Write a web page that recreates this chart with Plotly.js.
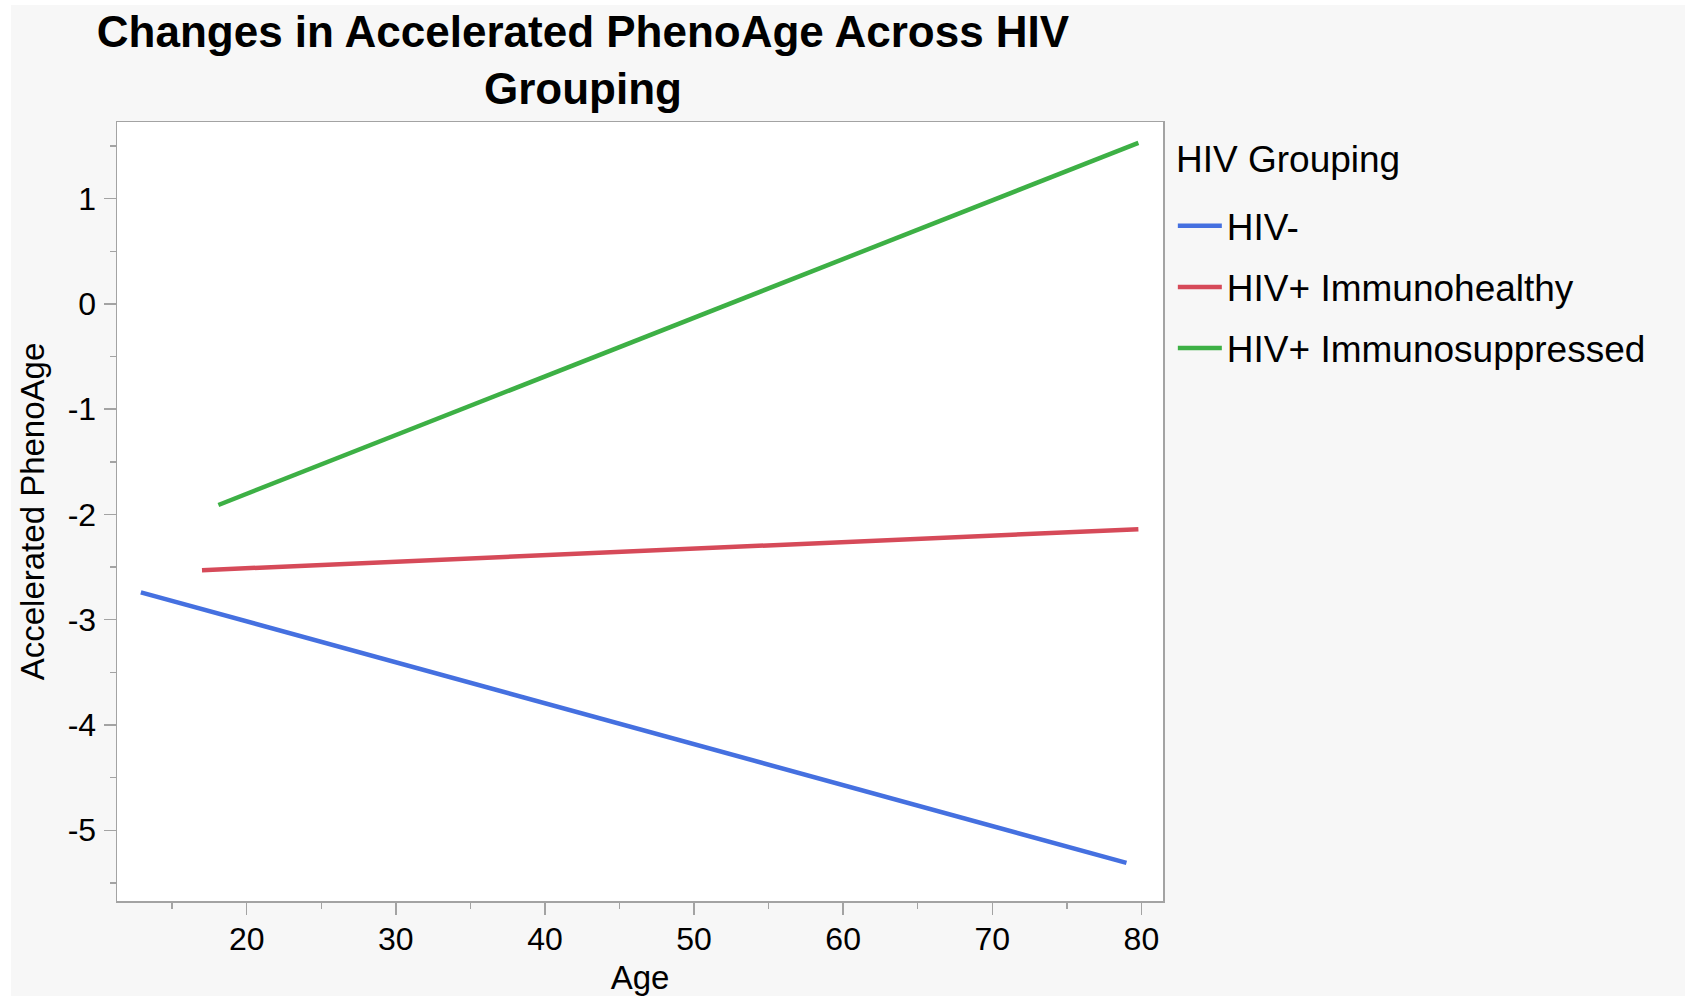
<!DOCTYPE html>
<html>
<head>
<meta charset="utf-8">
<script src="https://cdn.plot.ly/plotly-3.0.1.min.js"></script>
<style>
  html, body { margin: 0; padding: 0; background: #ffffff; width: 1685px; height: 996px; overflow: hidden; }
  #chart { position: absolute; left: 11px; top: 5px; width: 1674px; height: 991px; }
</style>
</head>
<body>
<div id="chart"></div>
<script>
// Data (fitted lines, endpoints)
const groups = ["HIV-", "HIV+ Immunohealthy", "HIV+ Immunosuppressed"];
const legendTitle = "HIV Grouping";
const ageHIVneg = [12.9, 79];
const phenoHIVneg = [-2.74, -5.31];
const ageImmunohealthy = [17, 79.8];
const phenoImmunohealthy = [-2.53, -2.14];
const ageImmunosuppressed = [18.1, 79.8];
const phenoImmunosuppressed = [-1.91, 1.53];
const colors = ["#4570E0", "#D64A59", "#3DB045"];
const xTickVals = [20, 30, 40, 50, 60, 70, 80];
const yTickVals = [-5, -4, -3, -2, -1, 0, 1];

const xs = [ageHIVneg, ageImmunohealthy, ageImmunosuppressed];
const ys = [phenoHIVneg, phenoImmunohealthy, phenoImmunosuppressed];

const traces = groups.map((g, i) => ({
  type: "scatter",
  mode: "lines",
  name: g,
  legendgroup: "g" + i,
  x: xs[i],
  y: ys[i],
  line: { color: colors[i], width: 4.5 },
  hoverinfo: "skip"
}));

const axisGray = "#a3a3a3";
const fam = "Liberation Sans, Arial, sans-serif";
const layout = {
  width: 1674,
  height: 991,
  paper_bgcolor: "#f7f7f7",
  plot_bgcolor: "#ffffff",
  font: { family: fam, color: "#000000" },
  margin: { l: 106, r: 522, t: 117, b: 95, pad: 0 },
  title: {
    text: "<b>Changes in Accelerated PhenoAge Across HIV<br>Grouping</b>",
    font: { size: 44, family: fam, color: "#000000" },
    x: 0.3417, xref: "container", xanchor: "center",
    y: 0.958, yref: "container", yanchor: "top"
  },
  xaxis: {
    range: [11.3, 81.45],
    tickvals: xTickVals,
    ticktext: xTickVals.map(String),
    ticks: "outside", ticklen: 12, tickwidth: 1.5, tickcolor: axisGray,
    minor: { ticks: "outside", ticklen: 6, tickwidth: 1.5, tickcolor: axisGray, dtick: 5, tick0: 0, showgrid: false },
    showline: true, linecolor: axisGray, linewidth: 1.5, mirror: true,
    showgrid: false, zeroline: false,
    tickfont: { size: 32 },
    ticklabelstandoff: -3,
    title: { text: "Age", font: { size: 33 }, standoff: 20 }
  },
  yaxis: {
    range: [-5.672, 1.728],
    tickvals: yTickVals,
    ticktext: yTickVals.map(String),
    ticks: "outside", ticklen: 12, tickwidth: 1.5, tickcolor: axisGray,
    minor: { ticks: "outside", ticklen: 6, tickwidth: 1.5, tickcolor: axisGray, dtick: 0.5, tick0: 0, showgrid: false },
    showline: true, linecolor: axisGray, linewidth: 1.5, mirror: true,
    showgrid: false, zeroline: false,
    tickfont: { size: 32 },
    ticklabelstandoff: 1,
    title: { text: "Accelerated PhenoAge", font: { size: 33 }, standoff: 13 }
  },
  showlegend: true,
  legend: {
    x: 1.0094, xanchor: "left", xref: "paper",
    y: 0.906, yanchor: "top", yref: "paper",
    bgcolor: "rgba(0,0,0,0)",
    borderwidth: 0,
    font: { size: 37 },
    itemwidth: 44,
    tracegroupgap: 10,
    traceorder: "grouped"
  },
  annotations: [{
    text: legendTitle,
    xref: "paper", yref: "paper",
    x: 1.0106, xanchor: "left",
    y: 0.952, yanchor: "middle",
    showarrow: false,
    font: { size: 37, family: fam, color: "#000000" }
  }]
};

Plotly.newPlot("chart", traces, layout, { staticPlot: true, displayModeBar: false });
</script>
</body>
</html>
